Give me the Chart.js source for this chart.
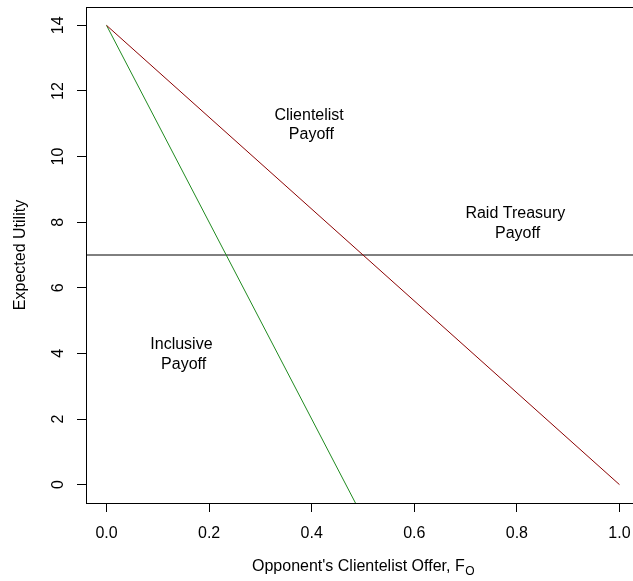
<!DOCTYPE html>
<html>
<head>
<meta charset="utf-8">
<script src="https://cdn.jsdelivr.net/npm/chart.js@4"></script>
<style>
  html, body { margin: 0; padding: 0; background: #fff; overflow: hidden; }
  #wrap { width: 645px; height: 581px; }
</style>
</head>
<body>
<div id="wrap"><canvas id="chart"></canvas></div>
<script>
// values
const clientelistLine = [{ x: 0, y: 14 }, { x: 1, y: 0 }];
const inclusiveLine = [{ x: 0, y: 14 }, { x: 0.5, y: -1 }];
const raidLine = [{ x: -0.04, y: 7 }, { x: 1.04, y: 7 }];
const xTicks = [0, 0.2, 0.4, 0.6, 0.8, 1.0];
const yTicks = [0, 2, 4, 6, 8, 10, 12, 14];
const labels = [
  { lines: ["Clientelist", " Payoff"], x: 0.395, y: 11 },
  { lines: ["Raid Treasury", " Payoff"], x: 0.797, y: 8 },
  { lines: ["Inclusive", " Payoff"], x: 0.146, y: 4 },
];

const FONT = "Liberation Sans, Arial, Helvetica, sans-serif";

// R style box, rotated y tick labels, annotations and subscripted x title
const rExtras = {
  id: "rExtras",
  afterDraw(chart) {
    const ctx = chart.ctx;
    const a = chart.chartArea;
    const xs = chart.scales.x;
    const ys = chart.scales.y;
    ctx.save();
    ctx.strokeStyle = "#000";
    ctx.lineWidth = 1;
    ctx.strokeRect(a.left + 0.5, a.top + 0.5, a.right - a.left, a.bottom - a.top);

    ctx.fillStyle = "#000";
    ctx.font = "16px " + FONT;
    ctx.textAlign = "center";
    ctx.textBaseline = "middle";
    yTicks.forEach(v => {
      const py = ys.getPixelForValue(v);
      ctx.save();
      ctx.translate(59, py);
      ctx.rotate(-Math.PI / 2);
      ctx.fillText(String(v), 0, 0);
      ctx.restore();
    });

    labels.forEach(l => {
      const px = xs.getPixelForValue(l.x);
      const py = ys.getPixelForValue(l.y);
      ctx.fillText(l.lines[0], px, py - 8.5);
      ctx.fillText(l.lines[1], px, py + 11);
    });

    // x title with subscript
    const main = "Opponent's Clientelist Offer, F";
    const sub = "O";
    ctx.font = "16px " + FONT;
    const w1 = ctx.measureText(main).width;
    ctx.font = "12px " + FONT;
    const w2 = ctx.measureText(sub).width;
    const cx = xs.getPixelForValue(0.5);
    const start = cx - (w1 + w2) / 2;
    ctx.textAlign = "left";
    ctx.font = "16px " + FONT;
    ctx.fillText(main, start, 567);
    ctx.font = "12px " + FONT;
    ctx.fillText(sub, start + w1 + 0.5, 572);
    ctx.restore();
  }
};

new Chart(document.getElementById("chart"), {
  type: "scatter",
  data: {
    datasets: [
      {
        label: "Clientelist Payoff",
        data: clientelistLine,
        showLine: true,
        borderColor: "#8b0000",
        borderWidth: 1,
        pointRadius: 0,
      },
      {
        label: "Inclusive Payoff",
        data: inclusiveLine,
        showLine: true,
        borderColor: "#1f8a1f",
        borderWidth: 1,
        pointRadius: 0,
      },
      {
        label: "Raid Treasury Payoff",
        data: raidLine,
        showLine: true,
        borderColor: "#000",
        borderWidth: 1,
        pointRadius: 0,
      },
    ],
  },
  options: {
    responsive: true,
    maintainAspectRatio: false,
    animation: false,
    events: [],
    layout: { padding: { top: 7, right: 5, left: 0, bottom: 0 } },
    plugins: { legend: { display: false }, tooltip: { enabled: false } },
    scales: {
      x: {
        type: "linear",
        min: -0.04,
        max: 1.04,
        afterBuildTicks: s => { s.ticks = xTicks.map(v => ({ value: v })); },
        afterFit: s => { s.height = 78; },
        border: { display: false },
        grid: { drawOnChartArea: false, drawTicks: true, tickLength: 9, color: "#000" },
        ticks: {
          color: "#000",
          font: { family: FONT, size: 16 },
          padding: 12,
          callback: v => v.toFixed(1),
        },
      },
      y: {
        type: "linear",
        min: -0.56,
        max: 14.56,
        afterBuildTicks: s => { s.ticks = yTicks.map(v => ({ value: v })); },
        afterFit: s => { s.width = 86; },
        border: { display: false },
        grid: { drawOnChartArea: false, drawTicks: true, tickLength: 9, color: "#000" },
        ticks: { display: false },
        title: {
          display: true,
          text: "Expected Utility",
          color: "#000",
          font: { family: FONT, size: 16 },
          padding: { top: 11, bottom: 0 },
        },
      },
    },
  },
  plugins: [rExtras],
});
</script>
</body>
</html>
